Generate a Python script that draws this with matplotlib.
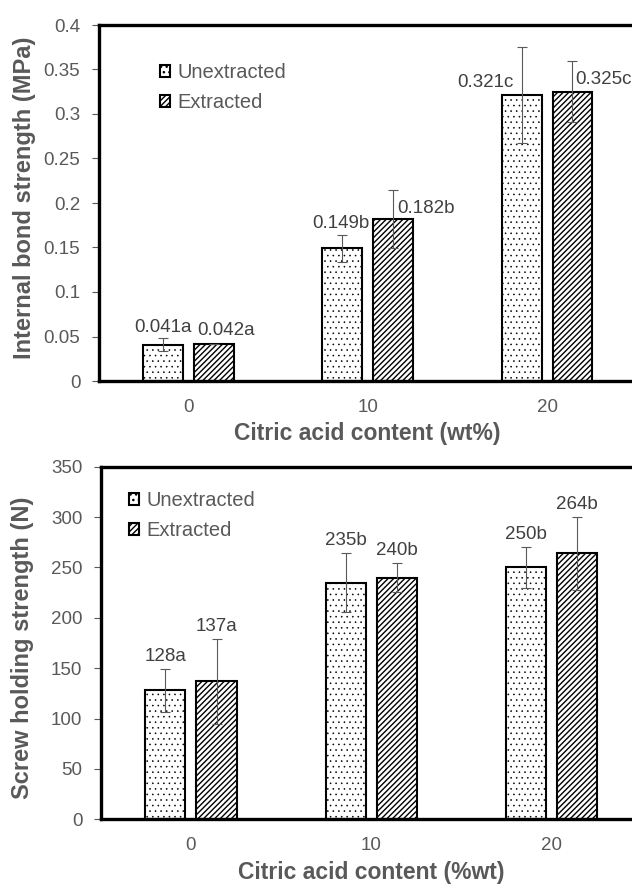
import numpy as np
import matplotlib
matplotlib.use('Agg')
import matplotlib.pyplot as plt
from matplotlib.ticker import FuncFormatter, MultipleLocator

plt.rcParams['font.family'] = ['Liberation Sans', 'DejaVu Sans']

GREY = '#595959'
DARK = '#404040'

# citric acid content (wt%)
categories = ['0', '10', '20']
series_names = ['Unextracted', 'Extracted']

# internal bond strength (MPa)
ib_unext = [0.041, 0.149, 0.321]
ib_ext = [0.042, 0.182, 0.325]
ib_unext_err = [0.0073, 0.015, 0.054]
ib_ext_err = [0.0, 0.033, 0.034]
ib_unext_lbl = ['0.041a', '0.149b', '0.321c']
ib_ext_lbl = ['0.042a', '0.182b', '0.325c']

# screw holding strength (N)
sh_unext = [128, 235, 250]
sh_ext = [137, 240, 264]
sh_unext_err = [21, 29, 20]
sh_ext_err = [42, 14, 36]
sh_unext_lbl = ['128a', '235b', '250b']
sh_ext_lbl = ['137a', '240b', '264b']

# label nudges (points) for the top panel, measured from bar top
ib_offsets_unext = [(0, 12.6), (-0.7, 17.6), (-26, 8.9)]
ib_offsets_ext = [(9, 9.8), (23.8, 7.9), (22, 8.6)]

W = 0.223
OFF = 0.142


def hatched_bar(ax, x, y, hatch, hlw, label):
    with plt.rc_context({'hatch.linewidth': hlw}):
        b = ax.bar(x, y, W, color='white', edgecolor='black', hatch=hatch,
                   linewidth=1.5, label=label, zorder=2)
    for p in b.patches:
        if hasattr(p, 'set_hatch_linewidth'):
            p.set_hatch_linewidth(hlw)
    return b


def draw_panel(ax, unext, ext, unext_err, ext_err, ymax, ystep,
               ylabel, xlabel, legend_xy, fig):
    x = np.arange(len(categories))
    b1 = hatched_bar(ax, x - OFF, unext, '...', 0.4, series_names[0])
    b2 = hatched_bar(ax, x + OFF, ext, '//////', 1.0, series_names[1])
    for xs, ys, es in [(x - OFF, unext, unext_err), (x + OFF, ext, ext_err)]:
        ax.errorbar(xs, ys, yerr=es, fmt='none', ecolor=GREY, elinewidth=0.8,
                    capsize=3.3, capthick=0.8, zorder=3)

    ax.set_xlim(-0.5, 2.5)
    ax.set_ylim(0, ymax)
    ax.set_xticks(x)
    ax.set_xticklabels(categories)
    ax.yaxis.set_major_locator(MultipleLocator(ystep))
    ax.yaxis.set_major_formatter(FuncFormatter(lambda v, p: f'{v:g}'))
    for s in ax.spines.values():
        s.set_linewidth(2.4)
        s.set_color('black')
    ax.tick_params(axis='y', direction='out', length=4.8, width=0.8,
                   color=GREY, labelsize=13.5, labelcolor=GREY, pad=8.4)
    ax.tick_params(axis='x', length=0, pad=13, labelsize=13.5, labelcolor=GREY)

    ax.set_ylabel(ylabel, fontsize=17, fontweight='bold', color=GREY)
    ax.set_xlabel(xlabel, fontsize=16.5, fontweight='bold', color=GREY, labelpad=4)

    ax.legend(handles=[b1, b2], loc='upper left', bbox_to_anchor=legend_xy,
              bbox_transform=fig.transFigure, frameon=False, fontsize=14.5,
              labelcolor=GREY, handlelength=0.5, handleheight=0.5,
              handletextpad=0.35, labelspacing=0.56, borderpad=0,
              borderaxespad=0)
    return x


fig = plt.figure(figsize=(6.32, 8.85), dpi=100)

# top panel: internal bond
ax1 = fig.add_axes([98.7 / 632, 1 - 381 / 885, 538 / 632, 356 / 885])
x = draw_panel(ax1, ib_unext, ib_ext, ib_unext_err, ib_ext_err, 0.4, 0.05,
               'Internal bond strength (MPa)', 'Citric acid content (wt%)',
               (160 / 632, 1 - 63 / 885), fig)
ax1.yaxis.set_label_coords(-0.1165, 0.515)
for i in range(len(categories)):
    ax1.annotate(ib_unext_lbl[i], (x[i] - OFF, ib_unext[i]), xytext=ib_offsets_unext[i],
                 textcoords='offset points', ha='center', va='center',
                 fontsize=13.5, color=DARK, annotation_clip=False)
    ax1.annotate(ib_ext_lbl[i], (x[i] + OFF, ib_ext[i]), xytext=ib_offsets_ext[i],
                 textcoords='offset points', ha='center', va='center',
                 fontsize=13.5, color=DARK, annotation_clip=False)

# bottom panel: screw holding
ax2 = fig.add_axes([100.8 / 632, 1 - 819.3 / 885, 541 / 632, 352.6 / 885])
x = draw_panel(ax2, sh_unext, sh_ext, sh_unext_err, sh_ext_err, 350, 50,
               'Screw holding strength (N)', 'Citric acid content (%wt)',
               (129 / 632, 1 - 491 / 885), fig)
ax2.xaxis.labelpad = 5
ax2.yaxis.set_label_coords(-0.1235, 0.486)
for i in range(len(categories)):
    ax2.annotate(sh_unext_lbl[i], (x[i] - OFF, sh_unext[i] + sh_unext_err[i]),
                 xytext=(0, 9), textcoords='offset points', ha='center',
                 va='center', fontsize=13.5, color=DARK)
    ax2.annotate(sh_ext_lbl[i], (x[i] + OFF, sh_ext[i] + sh_ext_err[i]),
                 xytext=(0, 9), textcoords='offset points', ha='center',
                 va='center', fontsize=13.5, color=DARK)

fig.savefig('out.png', dpi=100)
